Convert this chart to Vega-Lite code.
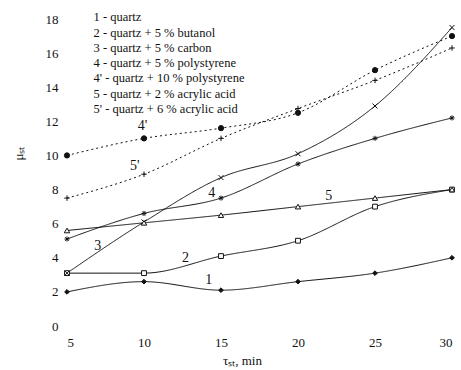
{
  "$schema": "https://vega.github.io/schema/vega-lite/v6.json",
  "width": 385,
  "height": 307,
  "autosize": {"type": "none"},
  "padding": {"left": 67, "top": 19, "right": 9, "bottom": 44},
  "background": "white",
  "config": {
    "view": {"stroke": null},
    "font": "Liberation Serif"
  },
  "datasets": {
    "pts": [
      {"s": "1", "name": "1 - quartz", "t": 5, "mu": 2.0},
      {"s": "1", "name": "1 - quartz", "t": 10, "mu": 2.6},
      {"s": "1", "name": "1 - quartz", "t": 15, "mu": 2.1},
      {"s": "1", "name": "1 - quartz", "t": 20, "mu": 2.6},
      {"s": "1", "name": "1 - quartz", "t": 25, "mu": 3.1},
      {"s": "1", "name": "1 - quartz", "t": 30, "mu": 4.0},
      {"s": "2", "name": "2 - quartz + 5 % butanol", "t": 5, "mu": 3.1},
      {"s": "2", "name": "2 - quartz + 5 % butanol", "t": 10, "mu": 3.1},
      {"s": "2", "name": "2 - quartz + 5 % butanol", "t": 15, "mu": 4.1},
      {"s": "2", "name": "2 - quartz + 5 % butanol", "t": 20, "mu": 5.0},
      {"s": "2", "name": "2 - quartz + 5 % butanol", "t": 25, "mu": 7.0},
      {"s": "2", "name": "2 - quartz + 5 % butanol", "t": 30, "mu": 8.0},
      {"s": "3", "name": "3 - quartz  + 5 % carbon", "t": 5, "mu": 3.1},
      {"s": "3", "name": "3 - quartz  + 5 % carbon", "t": 10, "mu": 6.1},
      {"s": "3", "name": "3 - quartz  + 5 % carbon", "t": 15, "mu": 8.7},
      {"s": "3", "name": "3 - quartz  + 5 % carbon", "t": 20, "mu": 10.1},
      {"s": "3", "name": "3 - quartz  + 5 % carbon", "t": 25, "mu": 12.9},
      {"s": "3", "name": "3 - quartz  + 5 % carbon", "t": 30, "mu": 17.5},
      {"s": "4", "name": "4 - quartz  + 5 % polystyrene", "t": 5, "mu": 5.1},
      {"s": "4", "name": "4 - quartz  + 5 % polystyrene", "t": 10, "mu": 6.6},
      {"s": "4", "name": "4 - quartz  + 5 % polystyrene", "t": 15, "mu": 7.5},
      {"s": "4", "name": "4 - quartz  + 5 % polystyrene", "t": 20, "mu": 9.5},
      {"s": "4", "name": "4 - quartz  + 5 % polystyrene", "t": 25, "mu": 11.0},
      {"s": "4", "name": "4 - quartz  + 5 % polystyrene", "t": 30, "mu": 12.2},
      {"s": "4'", "name": "4' - quartz  + 10 % polystyrene", "t": 5, "mu": 10.0},
      {"s": "4'", "name": "4' - quartz  + 10 % polystyrene", "t": 10, "mu": 11.0},
      {"s": "4'", "name": "4' - quartz  + 10 % polystyrene", "t": 15, "mu": 11.6},
      {"s": "4'", "name": "4' - quartz  + 10 % polystyrene", "t": 20, "mu": 12.5},
      {"s": "4'", "name": "4' - quartz  + 10 % polystyrene", "t": 25, "mu": 15.0},
      {"s": "4'", "name": "4' - quartz  + 10 % polystyrene", "t": 30, "mu": 17.0},
      {"s": "5", "name": "5 - quartz  + 2 % acrylic acid", "t": 5, "mu": 5.6},
      {"s": "5", "name": "5 - quartz  + 2 % acrylic acid", "t": 10, "mu": 6.05},
      {"s": "5", "name": "5 - quartz  + 2 % acrylic acid", "t": 15, "mu": 6.5},
      {"s": "5", "name": "5 - quartz  + 2 % acrylic acid", "t": 20, "mu": 7.0},
      {"s": "5", "name": "5 - quartz  + 2 % acrylic acid", "t": 25, "mu": 7.5},
      {"s": "5", "name": "5 - quartz  + 2 % acrylic acid", "t": 30, "mu": 8.0},
      {"s": "5'", "name": "5' - quartz  + 6 % acrylic acid", "t": 5, "mu": 7.5},
      {"s": "5'", "name": "5' - quartz  + 6 % acrylic acid", "t": 10, "mu": 8.9},
      {"s": "5'", "name": "5' - quartz  + 6 % acrylic acid", "t": 15, "mu": 11.0},
      {"s": "5'", "name": "5' - quartz  + 6 % acrylic acid", "t": 20, "mu": 12.75},
      {"s": "5'", "name": "5' - quartz  + 6 % acrylic acid", "t": 25, "mu": 14.4},
      {"s": "5'", "name": "5' - quartz  + 6 % acrylic acid", "t": 30, "mu": 16.3}
    ],
    "labels": [
      {"lab": "1", "t": 14.2, "mu": 2.7},
      {"lab": "2", "t": 12.7, "mu": 4.0},
      {"lab": "3", "t": 7.0, "mu": 4.7},
      {"lab": "4", "t": 14.4, "mu": 7.8},
      {"lab": "5", "t": 22.0, "mu": 7.6},
      {"lab": "4'", "t": 9.9, "mu": 11.75},
      {"lab": "5'", "t": 9.4, "mu": 9.4}
    ]
  },
  "encoding": {
    "x": {"field": "t", "type": "quantitative", "scale": {"domain": [5, 30], "nice": false}, "axis": {"values": [5, 10, 15, 20, 25, 30], "domain": false, "ticks": false, "grid": false, "labelOverlap": false, "labelFont": "Liberation Serif", "labelFontSize": 13, "labelColor": "#111", "labelPadding": 10, "title": "τₛₜ, min", "titleFont": "Liberation Serif", "titleFontWeight": "normal", "titleFontSize": 13, "titleColor": "#111", "titleX": 175, "titleY": 34, "titleBaseline": "middle"}},
    "y": {"field": "mu", "type": "quantitative", "scale": {"domain": [0, 18], "nice": false}, "axis": {"values": [0, 2, 4, 6, 8, 10, 12, 14, 16, 18], "domain": false, "ticks": false, "grid": false, "labelOverlap": false, "labelFont": "Liberation Serif", "labelFontSize": 13, "labelColor": "#111", "labelPadding": 9, "title": "μₛₜ", "titleFont": "Liberation Serif", "titleFontWeight": "normal", "titleFontSize": 13, "titleColor": "#111", "titleX": -42, "titleY": 134}}
  },
  "layer": [
    {
      "data": {"name": "pts"},
      "mark": {"type": "line", "interpolate": "monotone", "strokeWidth": 1},
      "encoding": {
        "detail": {"field": "s"},
        "stroke": {"field": "name", "type": "nominal", "scale": {"range": ["#111"]}, "legend": {"orient": "none", "legendX": 14, "legendY": -8, "title": null, "symbolSize": 0, "symbolStrokeWidth": 0, "symbolType": "stroke", "labelOffset": 0, "labelFont": "Liberation Serif", "labelFontSize": 12.5, "labelColor": "#111", "rowPadding": 2.3, "labelLimit": 400}},
        "strokeDash": {"field": "s", "type": "nominal", "scale": {"domain": ["1", "2", "3", "4", "4'", "5", "5'"], "range": [[1, 0], [1, 0], [1, 0], [1, 0], [2, 3], [1, 0], [2, 3]]}, "legend": null}
      }
    },
    {
      "data": {"name": "pts"},
      "mark": {"type": "point", "filled": true, "stroke": "#111", "strokeWidth": 1, "opacity": 1},
      "encoding": {
        "shape": {"field": "s", "type": "nominal", "scale": {"domain": ["1", "2", "3", "4", "4'", "5", "5'"], "range": ["diamond", "square", "M-1,-1L1,1M-1,1L1,-1", "M-1,0L1,0M0,-1L0,1M-0.7,-0.7L0.7,0.7M-0.7,0.7L0.7,-0.7", "circle", "triangle-up", "M-1,0L1,0M0,-1L0,1"]}, "legend": null},
        "fill": {"field": "s", "type": "nominal", "scale": {"domain": ["1", "2", "3", "4", "4'", "5", "5'"], "range": ["#111", "white", "#111", "#111", "#111", "white", "#111"]}, "legend": null},
        "size": {"field": "s", "type": "nominal", "scale": {"domain": ["1", "2", "3", "4", "4'", "5", "5'"], "range": [22, 30, 40, 40, 40, 30, 30]}, "legend": null}
      }
    },
    {
      "data": {"name": "labels"},
      "mark": {"type": "text", "font": "Liberation Serif", "fontSize": 14, "fill": "#111"},
      "encoding": {
        "text": {"field": "lab"}
      }
    }
  ]
}
